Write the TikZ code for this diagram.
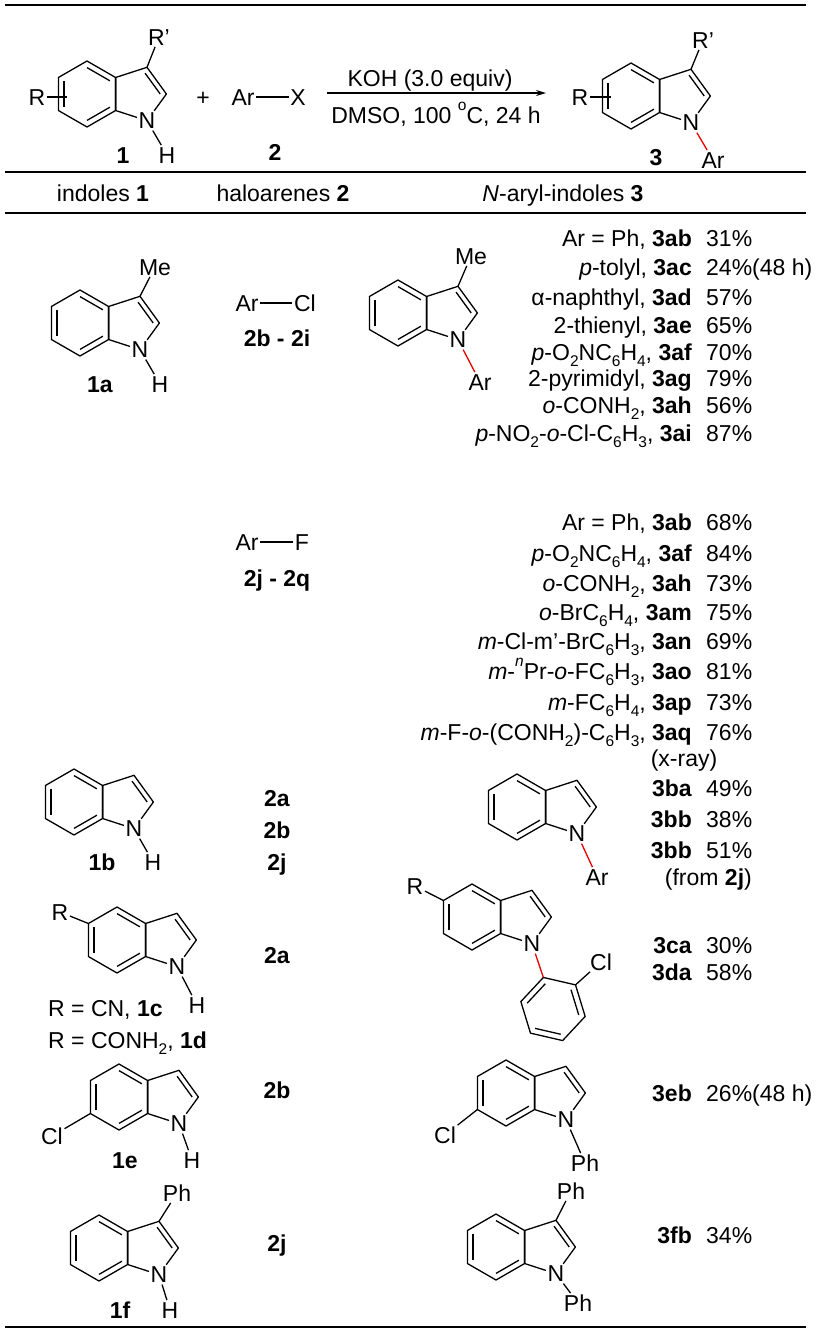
\documentclass[tikz,border=0pt]{standalone}
\usepackage{fontspec}
\setmainfont{Liberation Sans}
\usetikzlibrary{calc,arrows.meta}
\definecolor{bondred}{RGB}{230,0,0}
\newcommand\fs{\fontsize{23}{26}\selectfont}
\newcommand\sbt[1]{\raisebox{-0.28em}{\fontsize{15.5}{15.5}\selectfont #1}}
\newcommand\spt[1]{\raisebox{0.55em}{\fontsize{15.5}{15.5}\selectfont #1}}
\newcommand\prm{\char"0027}
\tikzset{
  bond/.style={line width=1.3pt},
  redbond/.style={line width=1.3pt, draw=bondred},
  atom/.style={font=\fs, inner sep=1.5pt, text height=16.4pt, text depth=0pt},
  txt/.style={font=\fs, inner sep=0pt, text height=16.4pt, text depth=0pt},
  rule/.style={line width=1.8pt},
}
\newcommand\indole[2]{%
  \begin{scope}[shift={#1}]
    \coordinate (#2o) at (0,0);
    \coordinate (#2a) at (0,-33);
    \coordinate (#2b) at (-28.6,-16.5);
    \coordinate (#2c) at (-28.6,16.5);
    \coordinate (#2d) at (0,33);
    \coordinate (#2e) at (28.6,16.5);
    \coordinate (#2f) at (28.6,-16.5);
    \coordinate (#2g) at (60,-26.7);
    \coordinate (#2h) at (79.4,0);
    \coordinate (#2p) at (51.3,0);
    \node[atom] (#2N) at (60,26.7) {N};
  \end{scope}
  \draw[bond,line join=round] (#2a)--(#2b)--(#2c)--(#2d)--(#2e)--(#2f)--cycle;
  \draw[bond,line join=round] (#2e)--(#2f)--(#2g)--(#2h)--(#2N)--(#2e);
  \draw[bond] ($(#2o)!.8!(#2b)$)--($(#2o)!.8!(#2c)$);
  \draw[bond] ($(#2o)!.8!(#2a)$)--($(#2o)!.8!(#2f)$);
  \draw[bond] ($(#2o)!.8!(#2d)$)--($(#2o)!.8!(#2e)$);
  \draw[bond] ($(#2p)!.78!(#2g)$)--($(#2p)!.78!(#2h)$);
}
\begin{document}
\begin{tikzpicture}[x=1pt,y=-1pt]
\useasboundingbox[fill=white] (0,0) rectangle (817,1331);
% rules
\coordinate (r1a) at (5,5); \coordinate (r1b) at (806,5);
\coordinate (r2a) at (5,172); \coordinate (r2b) at (806,172);
\coordinate (r3a) at (5,213); \coordinate (r3b) at (806,213);
\coordinate (r4a) at (5,1327); \coordinate (r4b) at (806,1327);
\draw[rule] (r1a)--(r1b); \draw[rule] (r2a)--(r2b);
\draw[rule] (r3a)--(r3b); \draw[rule] (r4a)--(r4b);

% ===== header scheme =====
\indole{(87,94)}{i1}
\node[atom] (i1R) at (37,97) {R};
\coordinate (i1Rx) at (67,97);
\draw[bond] (i1R)--(i1Rx);
\node[atom] (i1Rp) at (159,37) {R\prm};
\draw[bond] (i1g)--(i1Rp);
\node[atom] (i1H) at (167,155) {H};
\draw[bond] (i1N)--(i1H);
\node[atom] at (123,155) {\textbf{1}};
\node[atom] at (203,97) {+};
\node[atom] (hAr) at (243,97) {Ar};
\node[atom] (hX) at (298,97) {X};
\draw[bond] (hAr)--(hX);
\node[atom] at (275,152) {\textbf{2}};
\coordinate (arA) at (327,93); \coordinate (arB) at (546,93);
\draw[line width=1.3pt,-{Stealth[length=10pt,width=6pt]}] (arA)--(arB);
\node[txt] at (430,78) {KOH (3.0 equiv)};
\node[txt] at (436,115) {DMSO, 100 \spt{o}C, 24 h};

\indole{(631,96)}{i3}
\node[atom] (i3R) at (580,97) {R};
\coordinate (i3Rx) at (611,97);
\draw[bond] (i3R)--(i3Rx);
\node[atom] (i3Rp) at (703,40) {R\prm};
\draw[bond] (i3g)--(i3Rp);
\node[atom] (i3Ar) at (713,160) {Ar};
\draw[redbond] (i3N)--(i3Ar);
\node[atom] at (656,157) {\textbf{3}};

% column heads
\node[txt] at (103,193) {indoles \textbf{1}};
\node[txt] at (283,193) {haloarenes \textbf{2}};
\node[txt] at (563,193) {\textit{N}-aryl-indoles \textbf{3}};

% ===== 1a / 3a =====
\indole{(80,323)}{s1}
\node[atom] (s1Me) at (155,267) {Me};
\draw[bond] (s1g)--(s1Me);
\node[atom] (s1H) at (160,384) {H};
\draw[bond] (s1N)--(s1H);
\node[atom] at (100,384) {\textbf{1a}};

\node[atom] (clAr) at (247,303) {Ar};
\node[atom] (clX) at (305,303) {Cl};
\draw[bond] (clAr)--(clX);
\node[atom] at (277,338) {\textbf{2b - 2i}};

\node[atom] (fAr) at (247,542) {Ar};
\node[atom] (fX) at (302,542) {F};
\draw[bond] (fAr)--(fX);
\node[atom] at (277,578) {\textbf{2j - 2q}};

\indole{(398,313)}{s2}
\node[atom] (s2Me) at (471,256) {Me};
\draw[bond] (s2g)--(s2Me);
\node[atom] (s2Ar) at (480,382) {Ar};
\draw[redbond] (s2N)--(s2Ar);

% ===== list =====
\foreach \lab/\yl/\y in {
  {Ar = Ph, \textbf{3ab}}/{31\%}/238,
  {\textit{p}-tolyl, \textbf{3ac}}/{24\%(48 h)}/267,
  {α-naphthyl, \textbf{3ad}}/{57\%}/297,
  {2-thienyl, \textbf{3ae}}/{65\%}/325,
  {\textit{p}-O\sbt{2}NC\sbt{6}H\sbt{4}, \textbf{3af}}/{70\%}/352,
  {2-pyrimidyl, \textbf{3ag}}/{79\%}/378,
  {\textit{o}-CONH\sbt{2}, \textbf{3ah}}/{56\%}/405,
  {\textit{p}-NO\sbt{2}-\textit{o}-Cl-C\sbt{6}H\sbt{3}, \textbf{3ai}}/{87\%}/433,
  {Ar = Ph, \textbf{3ab}}/{68\%}/522,
  {\textit{p}-O\sbt{2}NC\sbt{6}H\sbt{4}, \textbf{3af}}/{84\%}/553,
  {\textit{o}-CONH\sbt{2}, \textbf{3ah}}/{73\%}/583,
  {\textit{o}-BrC\sbt{6}H\sbt{4}, \textbf{3am}}/{75\%}/612,
  {\textit{m}-Cl-m\prm-BrC\sbt{6}H\sbt{3}, \textbf{3an}}/{69\%}/641,
  {\textit{m}-\spt{\textit{n}}Pr-\textit{o}-FC\sbt{6}H\sbt{3}, \textbf{3ao}}/{81\%}/671,
  {\textit{m}-FC\sbt{6}H\sbt{4}, \textbf{3ap}}/{73\%}/702,
  {\textit{m}-F-\textit{o}-(CONH\sbt{2})-C\sbt{6}H\sbt{3}, \textbf{3aq}}/{76\%}/732,
  {\textbf{3ba}}/{49\%}/788,
  {\textbf{3bb}}/{38\%}/819,
  {\textbf{3bb}}/{51\%}/850,
  {\textbf{3ca}}/{30\%}/945,
  {\textbf{3da}}/{58\%}/972,
  {\textbf{3eb}}/{26\%(48 h)}/1093,
  {\textbf{3fb}}/{34\%}/1235}{
  \node[txt,anchor=east] at (692,\y) {\lab};
  \node[txt,anchor=west] at (706,\y) {\yl};
}
\node[txt] at (684,758) {(x-ray)};
\node[txt,anchor=east] at (752,877) {(from \textbf{2j})};

% ===== 1b / 3b =====
\indole{(74,802)}{s3}
\node[atom] (s3H) at (153,862) {H};
\draw[bond] (s3N)--(s3H);
\node[atom] at (102,862) {\textbf{1b}};
\node[atom] at (277,798) {\textbf{2a}};
\node[atom] at (277,830) {\textbf{2b}};
\node[atom] at (277,862) {\textbf{2j}};

\indole{(517,807)}{s4}
\node[atom] (s4Ar) at (597,877) {Ar};
\draw[redbond] (s4N)--(s4Ar);

% ===== 1c,1d / 3ca,3da =====
\indole{(117,940)}{s5}
\node[atom] (s5R) at (60,912) {R};
\draw[bond] (s5b)--(s5R);
\node[atom] (s5H) at (197,1005) {H};
\draw[bond] (s5N)--(s5H);
\node[txt,anchor=west] at (48,1008) {R = CN, \textbf{1c}};
\node[txt,anchor=west] at (48,1040) {R = CONH\sbt{2}, \textbf{1d}};
\node[atom] at (277,955) {\textbf{2a}};

\indole{(472,917)}{s6}
\node[atom] (s6R) at (415,886) {R};
\draw[bond] (s6b)--(s6R);
\begin{scope}[shift={(553,1009)}]
  \coordinate (phO) at (0,0);
  \coordinate (ph1) at (-107:33);
  \coordinate (ph2) at (-47:33);
  \coordinate (ph3) at (13:33);
  \coordinate (ph4) at (73:33);
  \coordinate (ph5) at (133:33);
  \coordinate (ph6) at (-167:33);
\end{scope}
\draw[bond,line join=round] (ph1)--(ph2)--(ph3)--(ph4)--(ph5)--(ph6)--cycle;
\draw[bond] ($(phO)!.8!(ph2)$)--($(phO)!.8!(ph3)$);
\draw[bond] ($(phO)!.8!(ph4)$)--($(phO)!.8!(ph5)$);
\draw[bond] ($(phO)!.8!(ph6)$)--($(phO)!.8!(ph1)$);
\draw[redbond] (s6N)--(ph1);
\node[atom] (s6Cl) at (601,962) {Cl};
\draw[bond] (ph2)--(s6Cl);

% ===== 1e / 3eb =====
\indole{(119,1097)}{s7}
\node[atom] (s7Cl) at (52,1136) {Cl};
\draw[bond] (s7c)--(s7Cl);
\node[atom] (s7H) at (192,1160) {H};
\draw[bond] (s7N)--(s7H);
\node[atom] at (125,1160) {\textbf{1e}};
\node[atom] at (277,1090) {\textbf{2b}};

\indole{(506,1093)}{s8}
\node[atom] (s8Cl) at (445,1135) {Cl};
\draw[bond] (s8c)--(s8Cl);
\node[atom] (s8Ph) at (585,1163) {Ph};
\draw[bond] (s8N)--(s8Ph);

% ===== 1f / 3fb =====
\indole{(99,1248)}{s9}
\node[atom] (s9Ph) at (177,1193) {Ph};
\draw[bond] (s9g)--(s9Ph);
\node[atom] (s9H) at (170,1310) {H};
\draw[bond] (s9N)--(s9H);
\node[atom] at (120,1310) {\textbf{1f}};
\node[atom] at (277,1243) {\textbf{2j}};

\indole{(496,1247)}{s10}
\node[atom] (s10Pt) at (571,1191) {Ph};
\draw[bond] (s10g)--(s10Pt);
\node[atom] (s10Pb) at (578,1303) {Ph};
\draw[bond] (s10N)--(s10Pb);
\end{tikzpicture}
\end{document}
